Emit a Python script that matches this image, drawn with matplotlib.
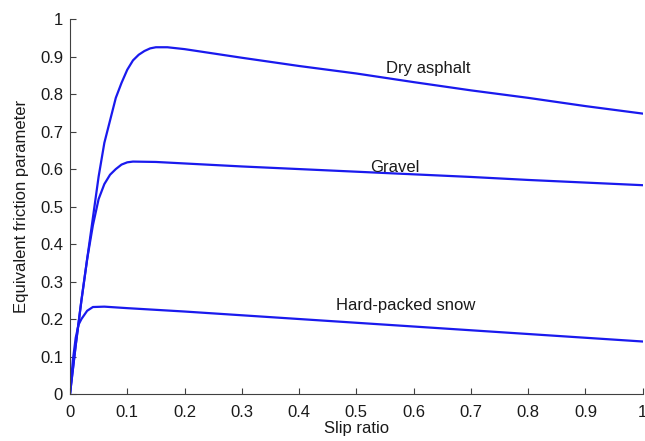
import matplotlib
matplotlib.use("Agg")
import matplotlib.pyplot as plt

# slip ratio samples and friction values
dry_x = [0, 0.01, 0.02, 0.03, 0.04, 0.05, 0.06, 0.07, 0.08, 0.09, 0.1, 0.11, 0.12, 0.13,
         0.14, 0.15, 0.17, 0.2, 0.3, 0.4, 0.5, 0.6, 0.7, 0.8, 0.9, 1.0]
dry_y = [0, 0.13, 0.25, 0.36, 0.47, 0.58, 0.67, 0.73, 0.79, 0.83, 0.865, 0.89, 0.905, 0.915,
         0.922, 0.925, 0.925, 0.92, 0.897, 0.875, 0.855, 0.832, 0.81, 0.79, 0.768, 0.748]

gravel_x = [0, 0.01, 0.02, 0.03, 0.04, 0.05, 0.06, 0.07, 0.08, 0.09, 0.1, 0.11, 0.15,
            0.2, 0.3, 0.4, 0.5, 0.6, 0.7, 0.8, 0.9, 1.0]
gravel_y = [0, 0.13, 0.25, 0.36, 0.45, 0.52, 0.56, 0.585, 0.6, 0.612, 0.618, 0.62, 0.619,
            0.615, 0.607, 0.6, 0.593, 0.586, 0.579, 0.571, 0.564, 0.557]

snow_x = [0, 0.005, 0.01, 0.015, 0.02, 0.03, 0.04, 0.06, 0.1, 0.2, 0.3, 0.4, 0.5,
          0.6, 0.7, 0.8, 0.9, 1.0]
snow_y = [0, 0.09, 0.15, 0.185, 0.2, 0.222, 0.232, 0.233, 0.229, 0.22, 0.21, 0.2, 0.19,
          0.18, 0.17, 0.16, 0.15, 0.14]

labels = ["Dry asphalt", "Gravel", "Hard-packed snow"]
label_x = [0.625, 0.567, 0.586]
label_y = [0.856, 0.592, 0.224]

x_ticks = [0, 0.1, 0.2, 0.3, 0.4, 0.5, 0.6, 0.7, 0.8, 0.9, 1]
y_ticks = [0, 0.1, 0.2, 0.3, 0.4, 0.5, 0.6, 0.7, 0.8, 0.9, 1]
tick_text = ["0", "0.1", "0.2", "0.3", "0.4", "0.5", "0.6", "0.7", "0.8", "0.9", "1"]

plt.rcParams["font.family"] = ["Liberation Sans", "DejaVu Sans"]

fig = plt.figure(figsize=(6.45, 4.41), dpi=100)
ax = fig.add_axes([0.1085, 0.1066, 0.888, 0.85])

line_color = "#1a1aee"
for xs, ys in [(dry_x, dry_y), (gravel_x, gravel_y), (snow_x, snow_y)]:
    ax.plot(xs, ys, color=line_color, lw=1.6, solid_joinstyle="round")

for txt, tx, ty in zip(labels, label_x, label_y):
    ax.text(tx, ty, txt, ha="center", va="baseline", fontsize=12, color="#1a1a1a")

ax.set_xlim(0, 1)
ax.set_ylim(0, 1)
ax.set_xticks(x_ticks)
ax.set_yticks(y_ticks)
ax.set_xticklabels(tick_text)
ax.set_yticklabels(tick_text)
ax.tick_params(direction="in", length=4, width=0.8, colors="#404040",
               labelcolor="#1a1a1a", labelsize=12)
ax.tick_params(axis="x", pad=8)
ax.tick_params(axis="y", pad=5)
for side in ["top", "right"]:
    ax.spines[side].set_visible(False)
for side in ["left", "bottom"]:
    ax.spines[side].set_color("#404040")
    ax.spines[side].set_linewidth(0.8)

ax.set_xlabel("Slip ratio", fontsize=12, color="#1a1a1a", labelpad=1)
ax.set_ylabel("Equivalent friction parameter", fontsize=12, color="#1a1a1a", labelpad=8)

fig.savefig("out.png", dpi=100)
